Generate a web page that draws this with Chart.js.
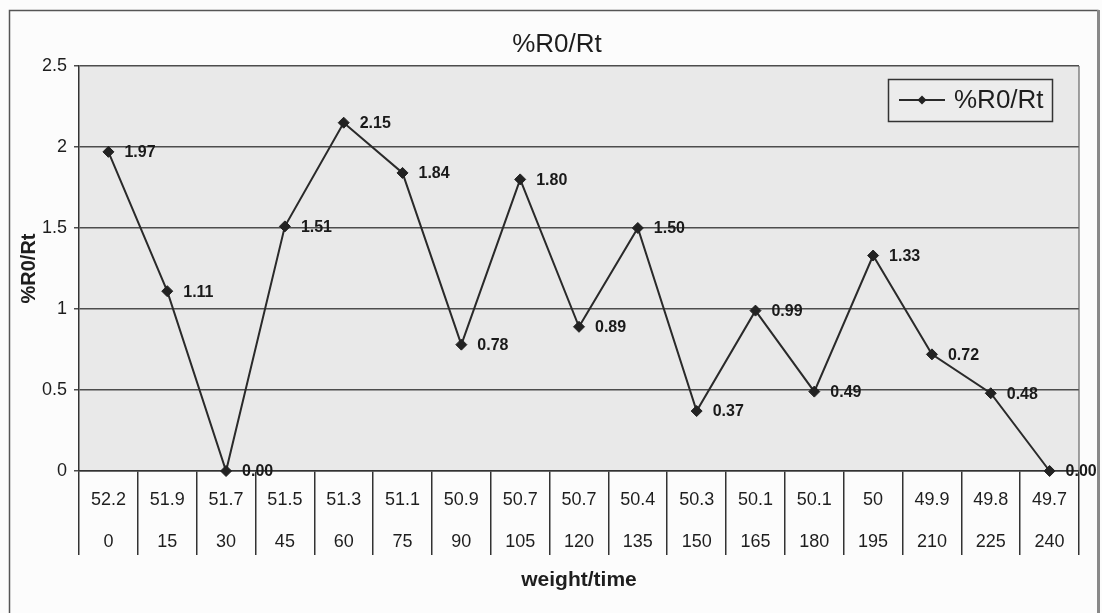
<!DOCTYPE html>
<html>
<head>
<meta charset="utf-8">
<title>%R0/Rt</title>
<script src="https://cdn.jsdelivr.net/npm/chart.js@4/dist/chart.umd.min.js"></script>
<style>
  html, body { margin: 0; padding: 0; background: #fcfcfc; }
  #wrap { width: 1102px; height: 613px; position: relative; }
</style>
</head>
<body>
<div id="wrap"><canvas id="c" width="1102" height="613"></canvas></div>
<script>
// Sample weight and sampling time (min) under each point
const weights = ['52.2', '51.9', '51.7', '51.5', '51.3', '51.1', '50.9', '50.7', '50.7', '50.4', '50.3', '50.1', '50.1', '50', '49.9', '49.8', '49.7'];
const times = ['0', '15', '30', '45', '60', '75', '90', '105', '120', '135', '150', '165', '180', '195', '210', '225', '240'];
// %R0/Rt values
const ratio = [1.97, 1.11, 0.00, 1.51, 2.15, 1.84, 0.78, 1.80, 0.89, 1.50, 0.37, 0.99, 0.49, 1.33, 0.72, 0.48, 0.00];
const yTicks = [0, 0.5, 1, 1.5, 2, 2.5];

const seriesName = '%R0/Rt';
const chartTitle = '%R0/Rt';
const xTitle = 'weight/time';
const yTitle = '%R0/Rt';

const FONT = '"Liberation Sans", Arial, Helvetica, sans-serif';
const INK = '#1e1e1e';

const labels = weights.map((w, i) => [w, times[i]]);

function diamond(ctx, x, y, r) {
  ctx.beginPath();
  ctx.moveTo(x, y - r);
  ctx.lineTo(x + r, y);
  ctx.lineTo(x, y + r);
  ctx.lineTo(x - r, y);
  ctx.closePath();
  ctx.fill();
}

// Backgrounds, frame, title and boxed legend
const framePlugin = {
  id: 'frame',
  beforeDraw(chart) {
    const { ctx, chartArea: a } = chart;
    ctx.save();
    ctx.fillStyle = '#fcfcfc';
    ctx.fillRect(0, 0, chart.width, chart.height);
    ctx.fillStyle = '#e9e9e9';
    ctx.fillRect(a.left, a.top, a.right - a.left, a.bottom - a.top);
    ctx.restore();
  },
  afterDraw(chart) {
    const { ctx, chartArea: a } = chart;
    ctx.save();
    // outer frame
    ctx.strokeStyle = '#555';
    ctx.lineWidth = 1.5;
    ctx.beginPath();
    ctx.moveTo(9.5, 640);
    ctx.lineTo(9.5, 10.5);
    ctx.lineTo(1098.5, 10.5);
    ctx.stroke();
    ctx.strokeStyle = '#888';
    ctx.lineWidth = 3;
    ctx.beginPath();
    ctx.moveTo(1098.5, 10);
    ctx.lineTo(1098.5, 640);
    ctx.stroke();
    // plot right edge
    ctx.strokeStyle = '#666';
    ctx.lineWidth = 1.2;
    ctx.beginPath();
    ctx.moveTo(a.right, a.top);
    ctx.lineTo(a.right, a.bottom);
    ctx.stroke();

    // title
    ctx.fillStyle = INK;
    ctx.font = '26px ' + FONT;
    ctx.textAlign = 'center';
    ctx.textBaseline = 'middle';
    ctx.fillText(chartTitle, 557, 45);

    // legend box
    const lx = 888, ly = 79, lw = 164, lh = 42;
    ctx.fillStyle = '#ececec';
    ctx.fillRect(lx, ly, lw, lh);
    ctx.strokeStyle = '#333';
    ctx.lineWidth = 1.5;
    ctx.strokeRect(lx + 0.5, ly + 0.5, lw, lh);
    const cy = ly + lh / 2;
    ctx.strokeStyle = '#2a2a2a';
    ctx.lineWidth = 1.8;
    ctx.beginPath();
    ctx.moveTo(899, cy);
    ctx.lineTo(945, cy);
    ctx.stroke();
    ctx.fillStyle = '#222';
    diamond(ctx, 922, cy, 4.5);
    ctx.fillStyle = INK;
    ctx.font = '26px ' + FONT;
    ctx.textAlign = 'left';
    ctx.textBaseline = 'middle';
    ctx.fillText(chart.data.datasets[0].label, 954, cy + 1);
    ctx.restore();
  }
};

// Value labels to the right of each point
const valueLabels = {
  id: 'valueLabels',
  afterDatasetsDraw(chart) {
    const { ctx } = chart;
    const meta = chart.getDatasetMeta(0);
    const data = chart.data.datasets[0].data;
    ctx.save();
    ctx.fillStyle = '#1a1a1a';
    ctx.font = 'bold 16px ' + FONT;
    ctx.textAlign = 'left';
    ctx.textBaseline = 'middle';
    meta.data.forEach((pt, i) => {
      ctx.fillText(data[i].toFixed(2), pt.x + 16, pt.y + 1);
    });
    ctx.restore();
  }
};

new Chart(document.getElementById('c'), {
  type: 'line',
  data: {
    labels: labels,
    datasets: [{
      label: seriesName,
      data: ratio,
      borderColor: '#2a2a2a',
      borderWidth: 2,
      backgroundColor: '#222',
      pointStyle: 'rectRot',
      pointRadius: 5.5,
      pointBackgroundColor: '#222',
      pointBorderColor: '#222',
      pointBorderWidth: 1,
      tension: 0,
      clip: false
    }]
  },
  options: {
    responsive: false,
    animation: false,
    devicePixelRatio: 1,
    layout: { padding: { left: 0, top: 66, right: 23, bottom: 0 } },
    plugins: {
      legend: { display: false },
      title: { display: false },
      tooltip: { enabled: false }
    },
    scales: {
      x: {
        type: 'category',
        offset: true,
        grid: {
          offset: true,
          drawOnChartArea: false,
          drawTicks: true,
          tickLength: 84,
          color: '#333',
          lineWidth: 1.5
        },
        border: { display: true, color: '#333', width: 1.5 },
        ticks: {
          autoSkip: false,
          maxRotation: 0,
          minRotation: 0,
          padding: -75,
          color: INK,
          font: { family: FONT, size: 18, lineHeight: 2.28 }
        },
        title: {
          display: true,
          text: xTitle,
          color: INK,
          font: { family: FONT, size: 21, weight: 'bold' },
          padding: { top: 20, bottom: 20 }
        },
        afterFit(scale) { scale.height = 142; }
      },
      y: {
        min: 0,
        max: 2.5,
        afterBuildTicks(scale) { scale.ticks = yTicks.map(v => ({ value: v })); },
        grid: {
          color: '#4d4d4d',
          lineWidth: 1.5,
          drawTicks: true,
          tickLength: 5
        },
        border: { display: true, color: '#333', width: 1.5 },
        ticks: {
          padding: 7,
          color: INK,
          font: { family: FONT, size: 18 },
          callback: v => String(v)
        },
        title: {
          display: true,
          text: yTitle,
          color: INK,
          font: { family: FONT, size: 20, weight: 'bold' },
          padding: { top: 17, bottom: 0 }
        },
        afterFit(scale) { scale.width = 79; }
      }
    }
  },
  plugins: [framePlugin, valueLabels]
});
</script>
</body>
</html>
